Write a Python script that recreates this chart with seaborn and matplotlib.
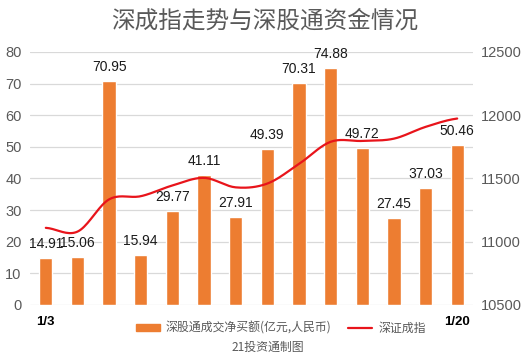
import numpy as np
import pandas as pd
import matplotlib
matplotlib.use("Agg")
import matplotlib.pyplot as plt
import seaborn as sns
from matplotlib.patches import Patch
from matplotlib.lines import Line2D

dates = ["1/3", "1/4", "1/5", "1/6", "1/9", "1/10", "1/11", "1/12", "1/13",
         "1/16", "1/17", "1/18", "1/19", "1/20"]
net_buy = [14.91, 15.06, 70.95, 15.94, 29.77, 41.11, 27.91, 49.39, 70.31,
           74.88, 49.72, 27.45, 37.03, 50.46]
szci = [11110, 11080, 11335, 11360, 11445, 11505, 11430, 11460, 11615,
        11790, 11797, 11815, 11908, 11974]
left_ticks = [0, 10, 20, 30, 40, 50, 60, 70, 80]
right_ticks = [10500, 11000, 11500, 12000, 12500]

sns.set_theme(style="white")
plt.rcParams['font.family'] = ['Noto Sans CJK SC', 'DejaVu Sans']

df = pd.DataFrame({"date": dates, "net": net_buy, "idx": szci})

fig = plt.figure(figsize=(5.29, 3.59), dpi=100)
ax = fig.add_axes([30/529, 1-305/359, 443/529, 253/359])
sns.barplot(data=df, x="date", y="net", color="#ED7D31", width=0.42,
            saturation=1, ax=ax, zorder=3)
ax.set_ylim(0, 80)
ax.set_xlim(-0.5, len(dates)-0.5)
ax.set_yticks(left_ticks)
ax.yaxis.grid(True, color="#D9D9D9", linewidth=0.9, zorder=0)
ax.set_axisbelow(True)
for s in ax.spines.values():
    s.set_visible(False)
ax.tick_params(axis="y", length=0, labelsize=10.5, colors="#595959", pad=6)
for lab in ax.get_yticklabels():
    lab.set_family("Liberation Sans")
ax.set_xticks([0, len(dates)-1])
ax.set_xticklabels([dates[0], dates[-1]], fontweight="bold", fontsize=9.5,
                   color="#000000", family="Liberation Sans")
ax.tick_params(axis="x", length=0, pad=8)
ax.set_xlabel("")
ax.set_ylabel("")
for i, v in enumerate(net_buy):
    ax.text(i, v + 2.2, f"{v:.2f}", ha="center", va="bottom", fontsize=10,
            color="#1a1a1a", zorder=5, family="Liberation Sans")

ax2 = ax.twinx()
# smooth rendering (Catmull-Rom) through the read data points
x = np.arange(len(szci), dtype=float)
y = np.array(szci, dtype=float)
xp = np.concatenate([[x[0]-(x[1]-x[0])], x, [x[-1]+(x[-1]-x[-2])]])
yp = np.concatenate([[y[0]], y, [y[-1]]])
xs, ys = [], []
for k in range(1, len(xp)-2):
    t = np.linspace(0, 1, 20)
    p0, p1, p2, p3 = yp[k-1], yp[k], yp[k+1], yp[k+2]
    yy = 0.5*((2*p1) + (-p0+p2)*t + (2*p0-5*p1+4*p2-p3)*t**2 + (-p0+3*p1-3*p2+p3)*t**3)
    xx = xp[k] + t*(xp[k+1]-xp[k])
    xs.extend(xx); ys.extend(yy)
ax2.plot(xs, ys, color="#E8141B", linewidth=1.6, zorder=4)
ax2.set_ylim(10500, 12500)
ax2.set_yticks(right_ticks)
for s in ax2.spines.values():
    s.set_visible(False)
ax2.tick_params(axis="y", length=0, labelsize=10.5, colors="#595959", pad=6)
for lab in ax2.get_yticklabels():
    lab.set_family("Liberation Sans")
ax2.grid(False)

fig.text(0.5, 1-21/359, "深成指走势与深股通资金情况", ha="center", va="center",
         fontsize=17, color="#595959", fontweight="medium")

handles = [Patch(color="#ED7D31"), Line2D([0], [0], color="#E8141B", linewidth=1.6)]
leg = fig.legend(handles, ["深股通成交净买额(亿元,人民币)", "深证成指"], loc="center",
                 bbox_to_anchor=(281/529, 1-328/359), ncol=2, frameon=False,
                 fontsize=8.6, handlelength=2.0, handleheight=0.55, columnspacing=1.4,
                 handletextpad=0.5, labelcolor="#595959")
fig.text(268/529, 1-347/359, "21投资通制图", ha="center", va="center",
         fontsize=8.6, color="#595959")

fig.savefig("out.png", dpi=100)
